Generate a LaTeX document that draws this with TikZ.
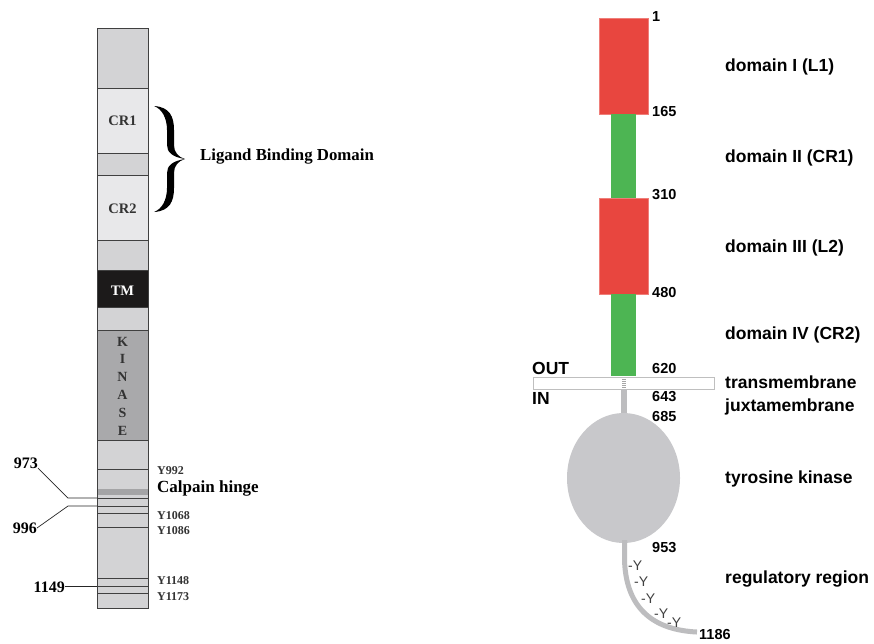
\documentclass[tikz,border=0pt]{standalone}
\usepackage{fontspec}
\setmainfont{Liberation Serif}
\setsansfont{Liberation Sans}
\definecolor{barg}{HTML}{D3D3D5}
\definecolor{crg}{HTML}{E8E8EA}
\definecolor{kin}{HTML}{A9A9AB}
\definecolor{tmb}{HTML}{1C1A1A}
\definecolor{calp}{HTML}{A4A4A6}
\definecolor{dred}{HTML}{E8463F}
\definecolor{dgreen}{HTML}{4DB553}
\definecolor{kgray}{HTML}{C8C8CB}
\definecolor{tgray}{HTML}{BDBDBF}
\begin{document}
\begin{tikzpicture}[x=1pt,y=-1pt,
  seg/.style={draw=black!75,line width=0.8pt},
  bline/.style={draw=black!75,line width=0.8pt},
  lead/.style={draw=black!85,line width=0.7pt},
  segtxt/.style={font=\fontsize{14.5}{16}\selectfont\bfseries,text=black!80,inner sep=0pt},
  ytxt/.style={font=\fontsize{12}{14}\selectfont\bfseries,text=black!80,anchor=west,inner sep=0pt},
  numl/.style={font=\fontsize{16}{18}\selectfont\bfseries,inner sep=0pt},
  numr/.style={font=\sffamily\fontsize{14.5}{16}\selectfont\bfseries,anchor=west,inner sep=0pt},
  domr/.style={font=\sffamily\fontsize{17.5}{20}\selectfont\bfseries,anchor=west,inner sep=0pt},
  ymark/.style={font=\sffamily\fontsize{14}{16}\selectfont,text=black!75,inner sep=0pt,anchor=west}]
\useasboundingbox (0,0) rectangle (874,643);
\fill[white] (0,0) rectangle (874,643);
% ---------------- left bar ----------------
\path[seg,fill=barg] (97,28) rectangle (148,88);
\path[seg,fill=crg] (97,88) rectangle (148,153);
\path[seg,fill=barg] (97,153) rectangle (148,175);
\path[seg,fill=crg] (97,175) rectangle (148,240);
\path[seg,fill=barg] (97,240) rectangle (148,270);
\path[seg,fill=tmb] (97,270) rectangle (148,307);
\path[seg,fill=barg] (97,307) rectangle (148,330);
\path[seg,fill=kin] (97,330) rectangle (148,440);
\path[seg,fill=barg] (97,440) rectangle (148,608);
\fill[calp] (97.5,488.5) rectangle (147.5,494.5);
\foreach \yy in {469,498,506,513,527,578,586,593}
  \draw[bline] (97,\yy) -- (148,\yy);
\node[segtxt] (cr1) at (122.5,121) {CR1};
\node[segtxt] (cr2) at (122.5,209) {CR2};
\node[segtxt,text=white] (tm) at (122.5,291) {TM};
\node[segtxt,align=center,font=\fontsize{14}{17.8}\selectfont\bfseries] (kinase) at (122.5,386) {K\\I\\N\\A\\S\\E};
% brace (filled, serif style)
\fill[black] (154,106) .. controls (170,107) and (174,117) .. (174,130) -- (174,145)
  .. controls (174,152) and (178,157) .. (185,159)
  .. controls (178,161) and (174,166) .. (174,173) -- (174,188)
  .. controls (174,201) and (170,211) .. (154,212)
  .. controls (162,209) and (167,200) .. (167,188) -- (167,173)
  .. controls (167,166) and (172,161) .. (185,159)
  .. controls (172,157) and (167,152) .. (167,145) -- (167,130)
  .. controls (167,118) and (162,109) .. (154,106) -- cycle;
\node[font=\fontsize{16.8}{19}\selectfont\bfseries,anchor=west,inner sep=0pt] (lbd) at (200,157) {Ligand Binding Domain};
% tyrosine labels
\node[ytxt] (y992) at (157,471) {Y992};
\node[font=\fontsize{17}{19}\selectfont\bfseries,anchor=west,inner sep=0pt] (calpain) at (157,488) {Calpain hinge};
\node[ytxt] (y1068) at (157,516) {Y1068};
\node[ytxt] (y1086) at (157,531) {Y1086};
\node[ytxt] (y1148) at (157,581) {Y1148};
\node[ytxt] (y1173) at (157,597) {Y1173};
% leaders
\node[numl,anchor=east] (n973) at (38,463) {973};
\node[numl,anchor=east] (n996) at (37,528) {996};
\node[numl,anchor=east] (n1149) at (65,587) {1149};
\coordinate (b973) at (97,498);
\coordinate (b996) at (97,506);
\coordinate (b1149) at (97,586);
\draw[lead] (n973.east) ++(0,5) -- (68,498) -- (b973);
\draw[lead] (n996.east) -- (68,506) -- (b996);
\draw[lead] (n1149.east) ++(0,-1) -- (b1149);
% ---------------- right diagram ----------------
\path[fill=dred,draw=dred!70!white,line width=0.5pt] (599,18) rectangle (648,114);
\path[fill=dgreen] (611,114) rectangle (636,198);
\path[fill=dred,draw=dred!70!white,line width=0.5pt] (599,198) rectangle (648,294);
\path[fill=dgreen] (611,294) rectangle (636,376);
% membrane
\path[fill=white,draw=black!25,line width=0.6pt] (533,377) rectangle (714,389);
\foreach \yy in {379,381,383,385,387}
  \draw[black!35,line width=0.4pt] (622,\yy) -- (626,\yy);
% stem and kinase
\fill[tgray] (621,389) rectangle (627,415);
\path[fill=kgray] (623.5,478) ellipse [x radius=56.5, y radius=65];
\draw[tgray,line width=5pt] (624.5,540) -- (624.5,560) .. controls (626,610) and (655,630) .. (697,632);
% marks
\node[ymark] (m1) at (628,566) {-Y};
\node[ymark] (m2) at (634,582) {-Y};
\node[ymark] (m3) at (641,599) {-Y};
\node[ymark] (m4) at (654,614) {-Y};
\node[ymark] (m5) at (667,623) {-Y};
% numbers
\node[numr] (r1) at (652,17) {1};
\node[numr] (r165) at (652,112) {165};
\node[numr] (r310) at (652,195) {310};
\node[numr] (r480) at (652,293) {480};
\node[numr] (r620) at (652,368) {620};
\node[numr] (r643) at (652,397) {643};
\node[numr] (r685) at (652,416) {685};
\node[numr] (r953) at (652,548) {953};
\node[numr] (r1186) at (699,634) {1186};
\node[font=\sffamily\fontsize{17.5}{19}\selectfont\bfseries,anchor=west,inner sep=0pt] (out) at (532,368) {OUT};
\node[font=\sffamily\fontsize{17.5}{19}\selectfont\bfseries,anchor=west,inner sep=0pt] (in) at (532,398) {IN};
% domain labels
\node[domr] (d1) at (725,67) {domain I (L1)};
\node[domr] (d2) at (725,158) {domain II (CR1)};
\node[domr] (d3) at (725,248) {domain III (L2)};
\node[domr] (d4) at (725,335) {domain IV (CR2)};
\node[domr] (tmem) at (725,382) {transmembrane};
\node[domr] (jux) at (725,407) {juxtamembrane};
\node[domr] (tk) at (725,479) {tyrosine kinase};
\node[domr] (reg) at (725,579) {regulatory region};
\end{tikzpicture}
\end{document}
